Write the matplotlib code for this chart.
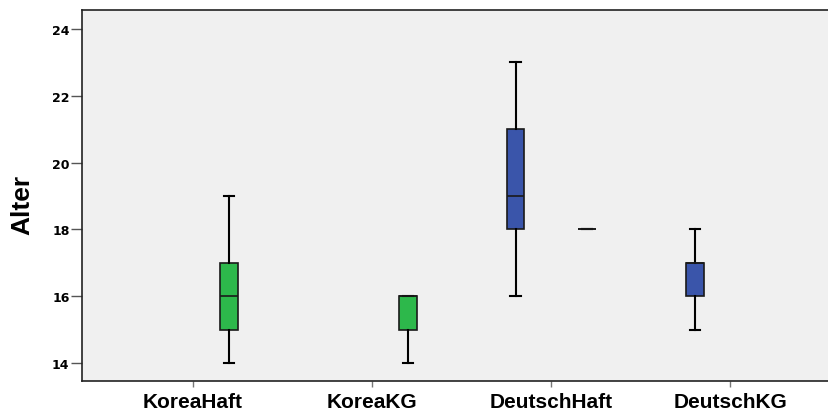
import matplotlib
matplotlib.use("Agg")
import matplotlib.pyplot as plt

# Data
categories = ["KoreaHaft", "KoreaKG", "DeutschHaft", "DeutschKG"]

# blue series (left slot of each cluster): whislo, q1, med, q3, whishi
blue_cats = ["DeutschHaft", "DeutschKG"]
blue_lo = [16, 15]
blue_q1 = [18, 16]
blue_med = [19, 17]
blue_q3 = [21, 17]
blue_hi = [23, 18]

# green series (right slot)
green_cats = ["KoreaHaft", "KoreaKG", "DeutschHaft"]
green_lo = [14, 14, 18]
green_q1 = [15, 15, 18]
green_med = [16, 16, 18]
green_q3 = [17, 16, 18]
green_hi = [19, 16, 18]

yticks = [14, 16, 18, 20, 22, 24]

BG = "#f0f0f0"
GREEN = "#2db84b"
BLUE = "#3a55aa"
OFFSET = 0.2
BOX_W = 0.1


def make_stats(lo, q1, med, q3, hi):
    return [dict(whislo=a, q1=b, med=c, q3=d, whishi=e, fliers=[])
            for a, b, c, d, e in zip(lo, q1, med, q3, hi)]


fig = plt.figure(figsize=(8.29, 4.14), dpi=100)
fig.patch.set_facecolor("white")
ax = fig.add_axes([82 / 829, 1 - 382 / 414, 747 / 829, 371 / 414])
ax.set_facecolor(BG)

series = [
    (blue_cats, make_stats(blue_lo, blue_q1, blue_med, blue_q3, blue_hi), -OFFSET, BLUE),
    (green_cats, make_stats(green_lo, green_q1, green_med, green_q3, green_hi), OFFSET, GREEN),
]
for cats, stats, off, color in series:
    pos = [categories.index(c) + off for c in cats]
    ax.bxp(stats, positions=pos, widths=BOX_W, patch_artist=True, showfliers=False,
           capwidths=0.056,
           boxprops=dict(facecolor=color, edgecolor="#1a1a1a", linewidth=1.2),
           medianprops=dict(color="#1a1a1a", linewidth=1.2),
           whiskerprops=dict(color="black", linewidth=1.5),
           capprops=dict(color="black", linewidth=1.5),
           manage_ticks=False)

ax.set_xlim(-0.62, 3.55)
ax.set_ylim(13.46, 24.57)
ax.set_xticks(range(len(categories)))
ax.set_xticklabels(categories, family="Liberation Sans", fontsize=15, fontweight="bold")
ax.set_yticks(yticks)
ax.set_yticklabels([str(t) for t in yticks], family="DejaVu Sans", fontsize=9,
                   fontweight="bold")
ax.tick_params(axis="y", length=8, width=1, color="#555555", pad=1)
ax.tick_params(axis="x", length=4, width=1, color="#777777", pad=4)

for side in ["left", "bottom", "top"]:
    ax.spines[side].set_color("#222222")
    ax.spines[side].set_linewidth(1.2)
ax.spines["right"].set_color("#dddddd")

ax.set_ylabel("Alter", family="Liberation Sans", fontsize=19, fontweight="bold")
ax.yaxis.set_label_coords((34 - 82) / 747, (382 - 205) / 371)

plt.savefig("out.png", dpi=100, facecolor="white")
